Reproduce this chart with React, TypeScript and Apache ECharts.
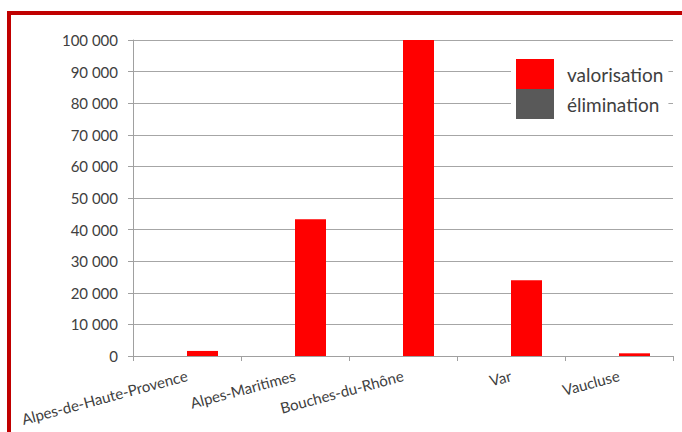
import React, { useEffect, useRef } from "react";
import * as echarts from "echarts";

const categories = [
  "Alpes-de-Haute-Provence",
  "Alpes-Maritimes",
  "Bouches-du-Rhône",
  "Var",
  "Vaucluse",
];
const valorisation = [1600, 43300, 100000, 24000, 850];
const elimination = [0, 0, 0, 0, 0];
const seriesNames = ["valorisation", "élimination"];

const fmt = (v: number) => String(v).replace(/\B(?=(\d{3})+(?!\d))/g, " ");

export default function App() {
  const ref = useRef<HTMLDivElement>(null);
  useEffect(() => {
    if (!ref.current) return;
    const chart = echarts.init(ref.current, null, { renderer: "svg" });
    const font = "Lato, 'Open Sans', sans-serif";
    chart.setOption({
      animation: false,
      backgroundColor: "#ffffff",
      textStyle: { fontFamily: font },
      grid: { left: 133, right: 9, top: 40, bottom: 76 },
      legend: {
        orient: "vertical",
        left: 511,
        top: 54,
        padding: 5,
        itemWidth: 38,
        itemHeight: 30,
        itemGap: 0,
        icon: "rect",
        backgroundColor: "#ffffff",
        data: [seriesNames[0], seriesNames[1]],
        textStyle: {
          fontFamily: font,
          fontSize: 19,
          color: "#404040",
          padding: [0, 0, 0, 8],
        },
      },
      xAxis: {
        type: "category",
        data: categories,
        axisLine: { lineStyle: { color: "#a0a0a0", width: 1 } },
        axisTick: { show: true, length: 5, alignWithLabel: false, lineStyle: { color: "#a0a0a0" } },
        axisLabel: {
          rotate: 15,
          margin: 19,
          interval: 0,
          fontFamily: font,
          fontSize: 15,
          color: "#404040",
        },
      },
      yAxis: {
        type: "value",
        min: 0,
        max: 100000,
        interval: 10000,
        axisLine: { show: true, lineStyle: { color: "#a0a0a0", width: 1 } },
        axisTick: { show: true, length: 5, lineStyle: { color: "#a0a0a0" } },
        splitLine: { show: true, lineStyle: { color: "#a6a6a6", width: 1 } },
        axisLabel: {
          margin: 15,
          fontFamily: font,
          fontSize: 15,
          color: "#404040",
          formatter: (v: number) => fmt(v),
        },
      },
      series: [
        {
          name: seriesNames[1],
          type: "bar",
          data: elimination,
          barWidth: 31,
          barGap: "0%",
          itemStyle: { color: "#595959" },
        },
        {
          name: seriesNames[0],
          type: "bar",
          data: valorisation,
          barWidth: 31,
          barGap: "0%",
          itemStyle: { color: "#ff0000" },
        },
      ],
      graphic: [
        {
          type: "rect",
          shape: { x: 9, y: 13, width: 720, height: 520 },
          style: { fill: "none", stroke: "#c00000", lineWidth: 4 },
          z: 100,
          silent: true,
        },
      ],
    });
    return () => chart.dispose();
  }, []);
  return (
    <div
      ref={ref}
      style={{ position: "fixed", left: 0, top: 0, width: 682, height: 432 }}
    />
  );
}
